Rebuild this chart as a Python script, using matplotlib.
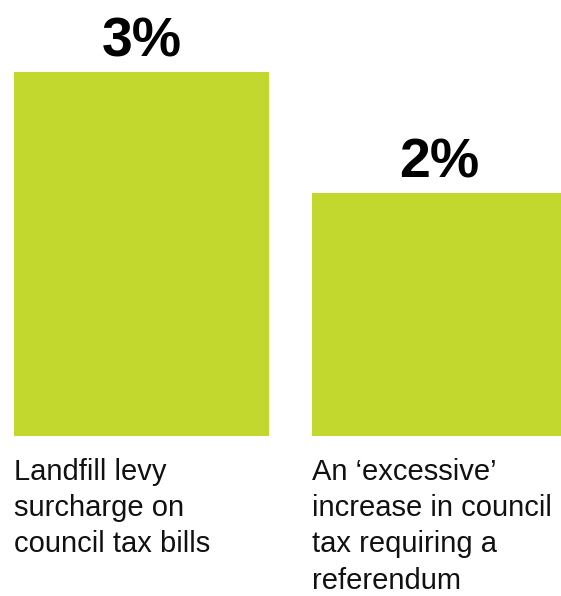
import matplotlib.pyplot as plt

labels = ["Landfill levy\nsurcharge on\ncouncil tax bills",
          "An \u2018excessive\u2019\nincrease in council\ntax requiring a\nreferendum"]
values = [3, 2]
value_text = ["3%", "2%"]

plt.rcParams['font.family'] = ['Liberation Sans', 'DejaVu Sans']

fig = plt.figure(figsize=(5.61, 5.96), dpi=100)
ax = fig.add_axes([0, 160 / 596, 1, 436 / 596])

width = 0.856
x = [0, 1]
bars = ax.bar(x, values, width=width, color='#c2d82e')

ax.set_xlim(-141.5 / 298, (561 - 141.5) / 298)
ax.set_ylim(0, 436 / 121.33)
ax.axis('off')

for bar, txt, lab in zip(bars, value_text, labels):
    cx = bar.get_x() + bar.get_width() / 2
    ax.annotate(txt, (cx, bar.get_height()), xytext=(0, 11.5),
                textcoords='offset points', ha='center', va='baseline',
                fontsize=40, fontweight='bold', color='black')
    ax.annotate(lab, (bar.get_x(), 0), xytext=(0, -15.5),
                textcoords='offset points', ha='left', va='top',
                fontsize=21, color='#111111', linespacing=1.38,
                annotation_clip=False)

fig.savefig('out.png', dpi=100)
